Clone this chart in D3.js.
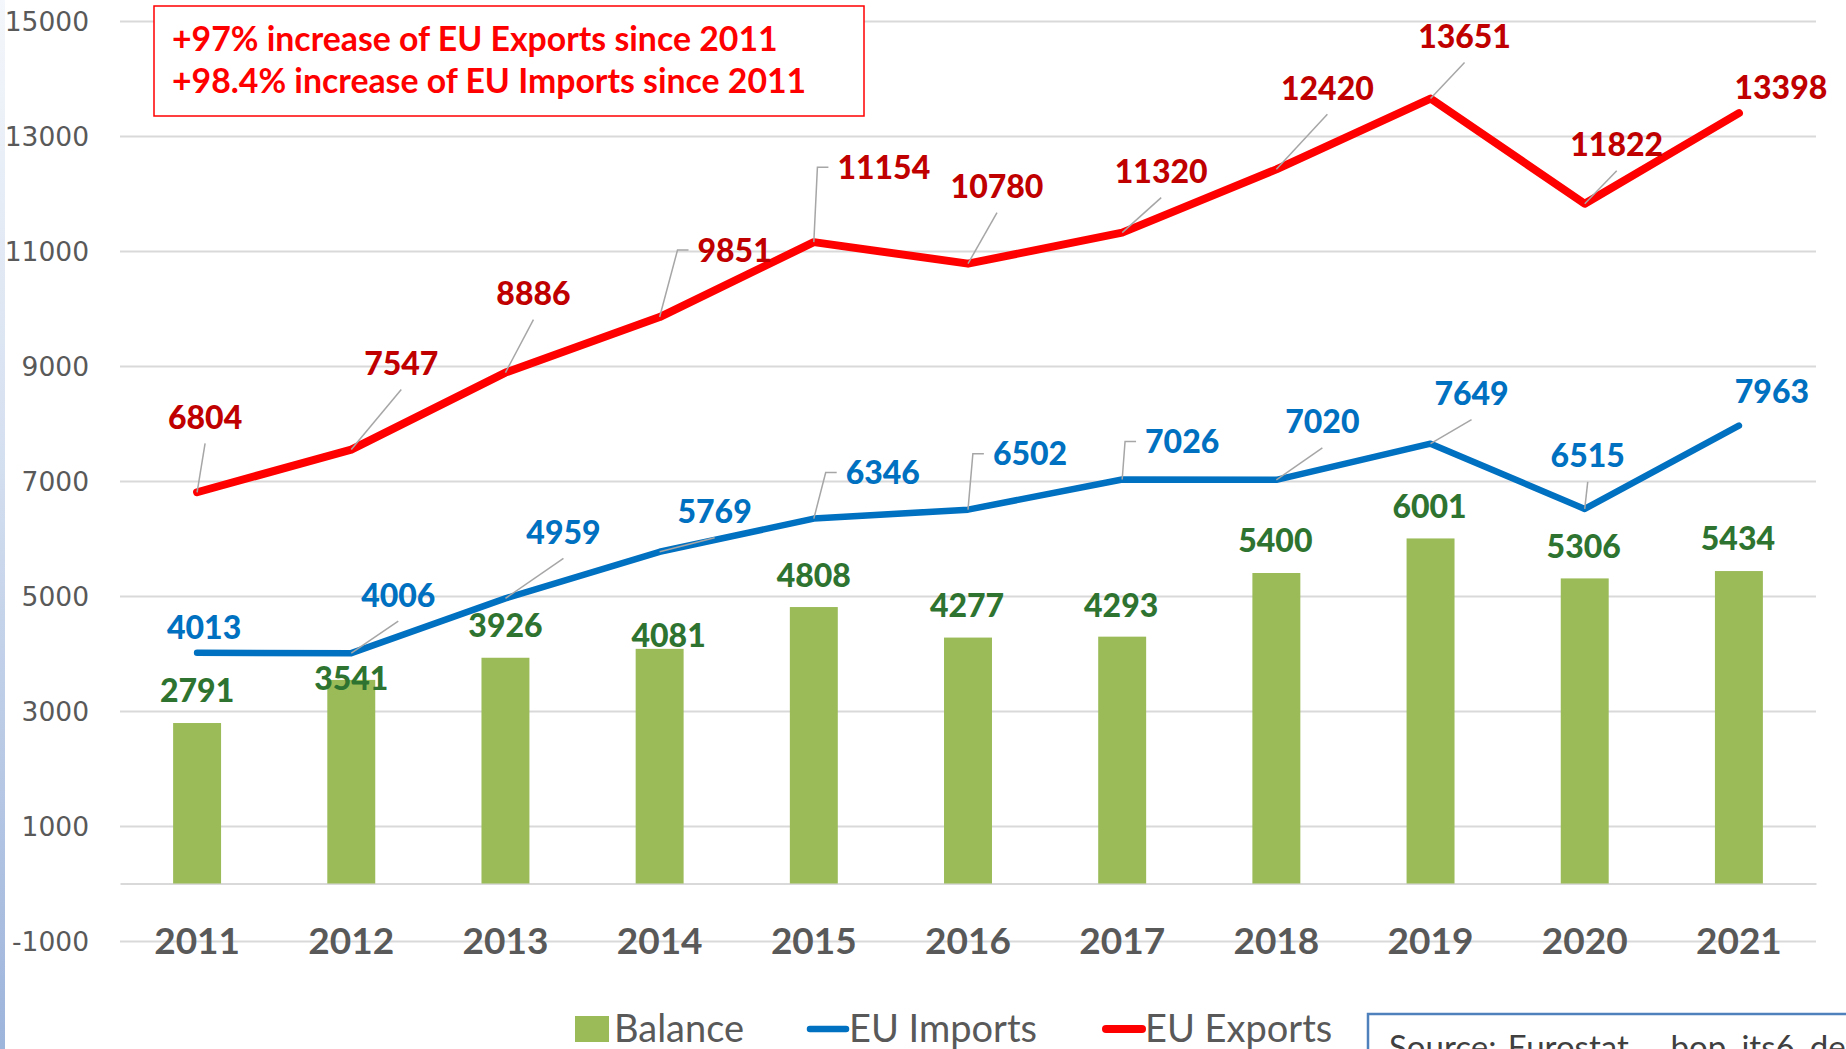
<!DOCTYPE html>
<html>
<head>
<meta charset="utf-8">
<style>
  body { margin: 0; background: #fff; }
  svg { display: block; }
</style>
</head>
<body>
<script src="https://cdn.jsdelivr.net/npm/d3@7"></script>
<script>
    var years = ['2011', '2012', '2013', '2014', '2015', '2016', '2017', '2018', '2019', '2020', '2021'];
    var exportsEU = [6804, 7547, 8886, 9851, 11154, 10780, 11320, 12420, 13651, 11822, 13398];
    var importsEU = [4013, 4006, 4959, 5769, 6346, 6502, 7026, 7020, 7649, 6515, 7963];
    var balance = [2791, 3541, 3926, 4081, 4808, 4277, 4293, 5400, 6001, 5306, 5434];
    var yTicks = [-1000, 1000, 3000, 5000, 7000, 9000, 11000, 13000, 15000];
    var notes = ['+97% increase of EU Exports since 2011', '+98.4% increase of EU Imports since 2011'];
    var legendNames = ['Balance', 'EU Imports', 'EU Exports'];
    var sourceText = 'Source: Eurostat , \u00a0bop_its6_det';

    // hand placed labels of the original: offset in px from the point, and leader side
    var exportNudge = [[8,-75],[50,-86],[28,-79],[75,-67],[70,-75],[29,-77],[39,-61],[51,-81],[34,-62],[32,-59],[42,-26]];
    var exportLeader = ['b','b','b','l','l','b','b','b','b','b',''];
    var importNudge = [[7,-25],[47,-58],[58,-66],[55,-40],[69,-46],[62,-56],[60,-38],[46,-58],[41,-50],[3,-53],[33,-34]];
    var importLeader = ['','b','b','b','l','l','l','b','b','b',''];
    var balanceNudge = [[0,-33],[0,-1],[0,-32],[9,-13],[0,-32],[-1,-32],[-1,-31],[-1,-33],[-1,-32],[-1,-32],[-1,-33]];

    var W = 1846, H = 1049;
    var plot = {left: 120, right: 1816, top: 21, bottom: 941};
    var font = 'Lato, "Open Sans", sans-serif';

    var svg = d3.select('body').append('svg')
        .attr('width', W)
        .attr('height', H);

    // faint blue edge of the slide
    var grad = svg.append('defs').append('linearGradient')
        .attr('id', 'edge').attr('x1', 0).attr('y1', 0).attr('x2', 0).attr('y2', 1);
    grad.append('stop').attr('offset', '0%').attr('stop-color', '#f4f7fb');
    grad.append('stop').attr('offset', '45%').attr('stop-color', '#d3deef');
    grad.append('stop').attr('offset', '100%').attr('stop-color', '#9db4db');
    svg.append('rect').attr('x', 0).attr('y', 0).attr('width', 5).attr('height', H).attr('fill', 'url(#edge)');

    var x = d3.scaleBand()
        .domain(years)
        .range([plot.left, plot.right])
        .paddingInner(0.689)
        .paddingOuter(0.3445);
    var cx = d => x(d) + x.bandwidth() / 2;

    var y = d3.scaleLinear()
        .domain([-1000, 15000])
        .range([plot.bottom, plot.top]);

    // gridlines and value axis
    var yAxis = svg.append('g')
        .attr('transform', 'translate(' + plot.left + ',0)')
        .call(d3.axisLeft(y)
            .tickValues(yTicks)
            .tickSize(-(plot.right - plot.left))
            .tickPadding(31)
            .tickFormat(d => String(d)));
    yAxis.select('.domain').remove();
    yAxis.selectAll('line').attr('stroke', '#d9d9d9').attr('stroke-width', 2);
    yAxis.selectAll('text')
        .attr('fill', '#595959')
        .attr('dy', '0.36em')
        .style('font-family', '"DejaVu Sans", sans-serif')
        .style('font-size', '26.5px');

    // category axis on the zero line, labels sitting on the -1000 line
    var xAxis = svg.append('g')
        .attr('transform', 'translate(0,' + y(0) + ')')
        .call(d3.axisBottom(x).tickSize(0).tickSizeOuter(0));
    xAxis.select('.domain').attr('stroke', '#d9d9d9').attr('stroke-width', 2);
    xAxis.selectAll('text')
        .attr('y', y(-1000) - y(0))
        .attr('dy', '0.36em')
        .attr('fill', '#595959')
        .style('font-family', font)
        .style('font-weight', 'bold')
        .style('font-size', '37px');

    // balance bars
    svg.append('g').selectAll('rect')
        .data(balance)
        .join('rect')
        .attr('x', (d, i) => x(years[i]))
        .attr('width', x.bandwidth())
        .attr('y', d => y(d))
        .attr('height', d => y(0) - y(d))
        .attr('fill', '#9bbb59');

    var line = d3.line()
        .x((d, i) => cx(years[i]))
        .y(d => y(d));

    svg.append('path')
        .datum(importsEU)
        .attr('d', line)
        .attr('fill', 'none')
        .attr('stroke', '#0070c0')
        .attr('stroke-width', 6.5)
        .attr('stroke-linecap', 'round')
        .attr('stroke-linejoin', 'round');

    svg.append('path')
        .datum(exportsEU)
        .attr('d', line)
        .attr('fill', 'none')
        .attr('stroke', '#ff0000')
        .attr('stroke-width', 8)
        .attr('stroke-linecap', 'round')
        .attr('stroke-linejoin', 'round');

    var leaderG = svg.append('g')
        .attr('fill', 'none')
        .attr('stroke', '#a6a6a6')
        .attr('stroke-width', 1.5);
    var labelG = svg.append('g')
        .style('font-family', font)
        .style('font-weight', '900')
        .style('font-size', '32px')
        .attr('text-anchor', 'middle');

    function drawLabels(values, nudge, leaders, color) {
        values.forEach((v, i) => {
            var px = cx(years[i]), py = y(v);
            var lx = px + nudge[i][0], ly = py + nudge[i][1];
            var t = labelG.append('text')
                .attr('x', lx)
                .attr('y', ly + 11.5)
                .attr('fill', color)
                .text(v);
            var w = t.node().getComputedTextLength();
            var side = leaders ? leaders[i] : '';
            if (side === 'b') {
                leaderG.append('path').attr('d', 'M' + px + ',' + py + 'L' + lx + ',' + (ly + 26));
            } else if (side === 'l') {
                var ex = lx - w / 2 - 9;
                leaderG.append('path').attr('d', 'M' + px + ',' + py + 'L' + (ex - 11) + ',' + ly + 'L' + ex + ',' + ly);
            }
        });
    }
    drawLabels(exportsEU, exportNudge, exportLeader, '#c00000');
    drawLabels(importsEU, importNudge, importLeader, '#0070c0');
    drawLabels(balance, balanceNudge, null, '#2e7430');

    // note box
    svg.append('rect')
        .attr('x', 154).attr('y', 6)
        .attr('width', 710).attr('height', 110)
        .attr('fill', '#fff')
        .attr('stroke', '#ff0000')
        .attr('stroke-width', 1.5);
    var noteText = svg.append('g')
        .style('font-family', font)
        .style('font-weight', 'bold')
        .attr('fill', '#ff0000');
    var first = noteText.append('text').attr('x', 172).attr('y', 51).style('font-size', '100px').text(notes[0]);
    var noteSize = 100 * 606 / first.node().getComputedTextLength();
    first.style('font-size', noteSize + 'px');
    noteText.append('text').attr('x', 172).attr('y', 93).style('font-size', noteSize + 'px').text(notes[1]);

    // legend
    var legend = svg.append('g')
        .style('font-family', font)
        .style('font-size', '38px')
        .attr('fill', '#595959');
    legend.append('rect').attr('x', 575).attr('y', 1016).attr('width', 34).attr('height', 26).attr('fill', '#9bbb59');
    legend.append('text').attr('x', 614).attr('y', 1042).text(legendNames[0]);
    legend.append('line').attr('x1', 810).attr('x2', 846).attr('y1', 1029).attr('y2', 1029)
        .attr('stroke', '#0070c0').attr('stroke-width', 6.5).attr('stroke-linecap', 'round');
    legend.append('text').attr('x', 849).attr('y', 1042).text(legendNames[1]);
    legend.append('line').attr('x1', 1106).attr('x2', 1142).attr('y1', 1029).attr('y2', 1029)
        .attr('stroke', '#ff0000').attr('stroke-width', 8).attr('stroke-linecap', 'round');
    legend.append('text').attr('x', 1145).attr('y', 1042).text(legendNames[2]);

    // source box, cut by the page edge as in the original slide
    svg.append('rect')
        .attr('x', 1368).attr('y', 1014)
        .attr('width', 600).attr('height', 80)
        .attr('fill', '#fff')
        .attr('stroke', '#4f81bd')
        .attr('stroke-width', 2.5);
    svg.append('text')
        .attr('x', 1389).attr('y', 1059)
        .style('font-family', font)
        .style('font-size', '33px')
        .style('word-spacing', '3px')
        .attr('fill', '#404040')
        .text(sourceText);
</script>
</body>
</html>
